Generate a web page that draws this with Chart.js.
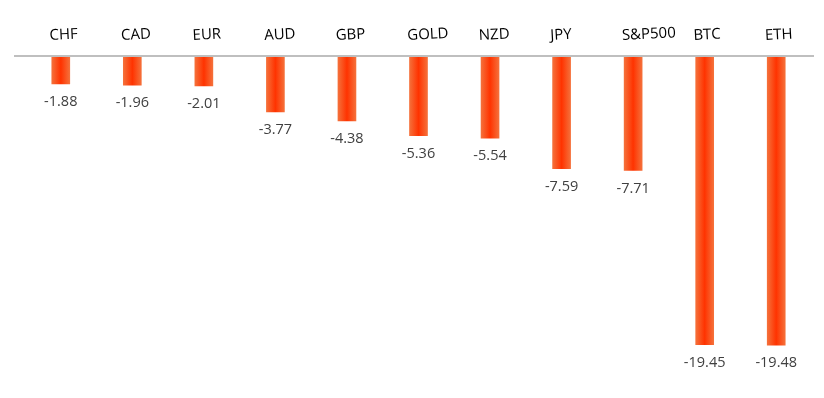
<!DOCTYPE html>
<html>
<head>
<meta charset="utf-8">
<script src="https://cdn.jsdelivr.net/npm/chart.js@4"></script>
<style>
  body { margin: 0; background: #fff; }
  #wrap { width: 824px; height: 398px; }
</style>
</head>
<body>
<div id="wrap"><canvas id="chart" width="824" height="398"></canvas></div>
<script>
const categories = ['CHF', 'CAD', 'EUR', 'AUD', 'GBP', 'GOLD', 'NZD', 'JPY', 'S&P500', 'BTC', 'ETH'];
const changes = [-1.88, -1.96, -2.01, -3.77, -4.38, -5.36, -5.54, -7.59, -7.71, -19.45, -19.48];

const ctx = document.getElementById('chart').getContext('2d');

// bar fill: lighter orange at the edges, hot red-orange in the middle
function barFill(context) {
  const chart = context.chart;
  const xScale = chart.scales.x;
  if (!xScale || context.dataIndex == null) return '#FF3C00';
  const cx = xScale.getPixelForValue(context.dataIndex);
  if (!Number.isFinite(cx)) return '#FF3C00';
  const g = chart.ctx.createLinearGradient(cx - 9, 0, cx + 9, 0);
  g.addColorStop(0, '#F5703A');
  g.addColorStop(0.5, '#FF3300');
  g.addColorStop(1, '#F5703A');
  return g;
}

const labelsPlugin = {
  id: 'labels',
  afterDatasetsDraw(chart) {
    const c = chart.ctx;
    const xs = chart.scales.x;
    const ys = chart.scales.y;
    const zeroY = ys.getPixelForValue(0);

    // zero line
    c.save();
    c.strokeStyle = '#BFBFBF';
    c.lineWidth = 2;
    c.beginPath();
    c.moveTo(14, zeroY);
    c.lineTo(814, zeroY);
    c.stroke();
    c.restore();

    // category names above the line, slightly tilted
    c.save();
    c.font = '15px "Open Sans", sans-serif';
    c.fillStyle = '#000';
    c.textBaseline = 'alphabetic';
    c.textAlign = 'left';
    categories.forEach((name, i) => {
      const x = xs.getPixelForValue(i) - 11;
      c.save();
      c.translate(x, zeroY - 16);
      c.rotate(-3 * Math.PI / 180);
      c.fillText(name, 0, 0);
      c.restore();
    });
    c.restore();

    // value labels under each bar
    c.save();
    c.font = '14.5px "Open Sans", sans-serif';
    c.fillStyle = '#404040';
    c.textAlign = 'center';
    c.textBaseline = 'middle';
    changes.forEach((v, i) => {
      c.fillText(v.toFixed(2), xs.getPixelForValue(i), ys.getPixelForValue(v) + 18);
    });
    c.restore();
  }
};

new Chart(ctx, {
  type: 'bar',
  data: {
    labels: categories,
    datasets: [{
      data: changes,
      backgroundColor: barFill,
      borderWidth: 0,
      barThickness: 18,
    }],
  },
  options: {
    responsive: false,
    animation: false,
    layout: { padding: { left: 25, right: 12, top: 56, bottom: 15.5 } },
    plugins: {
      legend: { display: false },
      tooltip: { enabled: false },
    },
    scales: {
      x: { display: false },
      y: { display: false, min: -22, max: 0 },
    },
  },
  plugins: [labelsPlugin],
});
</script>
</body>
</html>
